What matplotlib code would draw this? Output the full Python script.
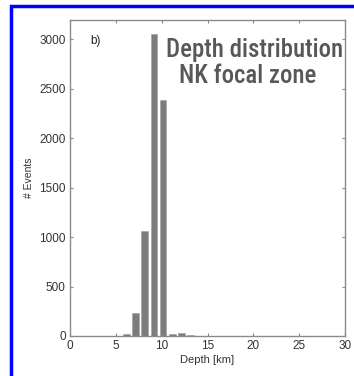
import matplotlib
matplotlib.use("Agg")
import matplotlib.pyplot as plt
from matplotlib.patches import Rectangle
from matplotlib import font_manager
from matplotlib.font_manager import FontProperties

depth_centers = [6, 7, 8, 9, 10, 11, 12, 13]
event_counts = [20, 235, 1060, 3050, 2390, 22, 30, 8]
xticks = [0, 5, 10, 15, 20, 25, 30]
yticks = [0, 500, 1000, 1500, 2000, 2500, 3000]
title_line1 = 'Depth distribution'
title_line2 = 'NK focal zone'


def wnum(w):
    if isinstance(w, str):
        return font_manager.weight_dict.get(w, 400)
    return w


prefs = ['Liberation Sans Narrow', 'Arial Narrow', 'Roboto Condensed',
         'Open Sans Condensed', 'Noto Sans Condensed', 'DejaVu Sans Condensed']


def rank(f):
    try:
        p = prefs.index(f.name)
    except ValueError:
        p = len(prefs)
    return (p, abs(wnum(f.weight) - 560))


cands = [f for f in font_manager.fontManager.ttflist
         if ('Narrow' in f.name or 'Condensed' in f.name)
         and 500 <= wnum(f.weight) <= 750 and f.style == 'normal']
cands.sort(key=rank)
if cands:
    title_fp = FontProperties(fname=cands[0].fname)
else:
    title_fp = FontProperties(family='Liberation Sans', weight='bold')
plt.rcParams['font.family'] = ['Liberation Sans', 'DejaVu Sans']

W, H = 354, 376
fig = plt.figure(figsize=(W / 100, H / 100), dpi=100)
fig.patch.set_facecolor('white')

fig.patches.append(Rectangle((10.5 / W, -0.1), 2.0, (H - 6) / H + 0.1,
                             transform=fig.transFigure, fill=False,
                             edgecolor='#0000ff', linewidth=2.5, zorder=0))

ax = fig.add_axes([70 / W, 1 - 336 / H, 275 / W, 316 / H])
offset = 0.15
ax.bar([c + offset for c in depth_centers], event_counts, width=0.72,
       color='#7c7c7c', edgecolor='#a0a0a0', linewidth=0.4)
ax.set_xlim(0, 30)
ax.set_ylim(0, 3195)
ax.set_xticks(xticks)
ax.set_yticks(yticks)
ax.tick_params(direction='in', length=2.5, width=0.8, color='#888888',
               labelsize=8.5, labelcolor='#333333', top=True, right=True, pad=3)
for s in ax.spines.values():
    s.set_color('#8a8a8a')
    s.set_linewidth(1.0)
ax.set_xlabel('Depth [km]', fontsize=8, color='#333333', labelpad=2)
ax.set_ylabel('# Events', fontsize=7.5, color='#333333', labelpad=4)

ax.text(0.075, 0.935, 'b)', transform=ax.transAxes, fontsize=8.5,
        color='#222222', ha='left', va='center')

fp1 = title_fp.copy()
fp1.set_size(15)
t1 = fig.text(255 / W, 1 - 57 / H, title_line1, fontproperties=fp1,
              color='#585858', ha='center', va='baseline')
fig.canvas.draw()
w = t1.get_window_extent().width
fs = 15 * 178.0 / w
t1.set_fontsize(fs)
fp2 = title_fp.copy()
fp2.set_size(fs)
fig.text(248 / W, 1 - 83 / H, title_line2, fontproperties=fp2,
         color='#585858', ha='center', va='baseline')

fig.savefig('out.png', dpi=100)
